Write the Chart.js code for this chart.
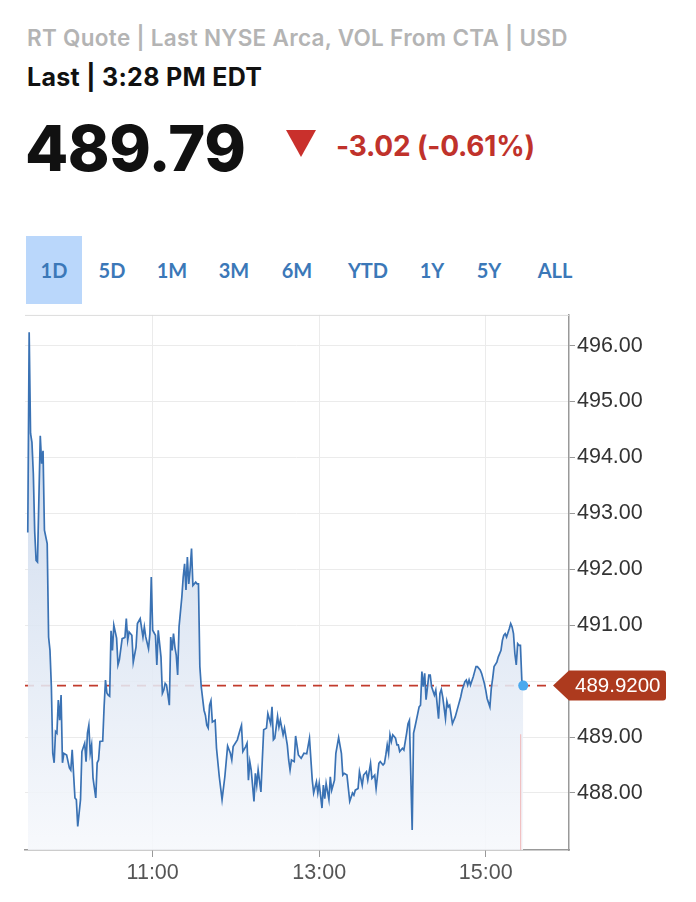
<!DOCTYPE html>
<html>
<head>
<meta charset="utf-8">
<script src="https://cdn.jsdelivr.net/npm/chart.js@4.4.1/dist/chart.umd.min.js"></script>
<style>
  html, body { margin: 0; padding: 0; background: #fff; }
  body { width: 696px; height: 902px; position: relative; overflow: hidden; font-family: Inter, Lato, sans-serif; }
  .hd { position: absolute; white-space: nowrap; line-height: 1; }
  .src { left: 27px; top: 27px; font-size: 22.5px; font-weight: 600; color: #b4b4b4; letter-spacing: 0.3px; }
  .last { left: 27px; top: 65px; font-size: 25px; font-weight: 700; color: #111; letter-spacing: 0.3px; }
  .price { left: 25px; top: 117px; font-size: 63px; font-weight: 800; color: #111; letter-spacing: -0.5px; }
  .tri { position: absolute; left: 286px; top: 130px; width: 0; height: 0; border-left: 15px solid transparent; border-right: 15px solid transparent; border-top: 27px solid #c9302c; }
  .chg { left: 336px; top: 132px; font-size: 28px; font-weight: 700; color: #c0322b; letter-spacing: -0.2px; }
  .tabs { position: absolute; left: 0; top: 236px; width: 696px; height: 68px; }
  .tab { position: absolute; top: 0; height: 68px; line-height: 68px; font-family: Lato, sans-serif; font-size: 20px; font-weight: 700; color: #3b78b8; transform: translateX(-50%); text-align: center; }
  .tab.on { background: #bad7fb; width: 56px; transform: none; }
  #wrap { position: absolute; left: 0; top: 300px; width: 696px; height: 602px; }
</style>
</head>
<body>
<div class="hd src">RT Quote | Last NYSE Arca, VOL From CTA | USD</div>
<div class="hd last">Last | 3:28 PM EDT</div>
<div class="hd price">489.79</div>
<div class="tri"></div>
<div class="hd chg">-3.02 (-0.61%)</div>
<div class="tabs" id="tabs"></div>
<div id="wrap"><canvas id="chart" width="696" height="602"></canvas></div>
<script>
// tabs above the chart
const tabLabels = ["1D", "5D", "1M", "3M", "6M", "YTD", "1Y", "5Y", "ALL"];
const tabCenters = [54, 112, 172, 234, 297, 368, 432, 489, 555];

// minutes after the 9:30 open, and the price at that minute
const minutes = [
  0, 1, 2, 3, 4, 5, 6, 7, 9, 10, 11, 12, 14, 15, 16, 17, 18, 19, 20, 21, 22, 23, 24, 25, 26, 28, 30, 31, 32, 34,
  35, 36, 38, 39, 41, 42, 43, 44, 45, 46, 47, 49, 50, 51, 52, 54, 55, 56, 57, 58, 59,
  60, 61, 62, 64, 65, 66, 68, 70, 71, 72, 73, 75, 76, 78, 79, 81, 83, 84, 85, 87, 88, 89, 90, 92,
  93, 94, 96, 97, 98, 99, 100, 102, 103, 104, 105, 106, 107, 108, 109, 111, 112, 113, 114, 115, 116, 117, 118, 119,
  121, 122, 123, 124, 125, 127, 128, 129, 130, 131, 132, 133, 135, 136, 138, 140, 142, 144, 146, 147, 148, 151,
  153, 154, 155, 157, 158, 159, 160, 161, 163, 164, 165, 166, 168, 169, 170, 172, 173, 175, 176, 177, 178, 180,
  181, 182, 184, 185, 187, 188, 189, 190, 192, 193, 195, 197, 199,
  201, 203, 205, 206, 208, 209, 210, 212, 213, 214, 215, 217, 218, 219, 221, 222, 224, 226, 227, 228, 230, 232,
  234, 235, 236, 238, 239, 241, 242, 244, 245, 247, 248, 250, 251, 253, 254, 256, 257, 258, 259, 260, 261, 262,
  263, 265, 266, 267, 268, 270, 271, 273, 274, 275, 277, 278, 279, 281, 282, 283, 284, 285, 286, 287, 289, 290,
  291, 293, 294, 296, 297, 298, 299, 301, 302, 303, 304, 306, 307, 308, 310, 312, 313, 315, 316, 317, 318, 319,
  321, 322, 323, 324, 326, 327, 329, 330, 331, 333, 334, 335, 336, 338, 339, 341, 342, 343, 344, 345, 347, 348,
  349, 350, 351, 352, 353, 354, 355, 356, 357
];
const prices = [
  492.66, 496.24, 494.43, 494.27, 493.71, 492.67, 492.16, 492.13, 494.39, 493.89, 494.12, 492.70, 492.46, 490.79, 490.55,
  489.90, 488.71, 488.54, 489.10, 489.07, 489.66, 489.30, 489.75, 488.54, 488.71, 488.68, 488.45, 488.41, 488.77, 487.91,
  487.88, 487.40, 487.88, 488.74, 488.89, 488.56, 489.07, 489.21, 488.71, 488.86, 488.27, 487.91, 488.54, 488.59, 488.92,
  488.93, 489.54, 490.02, 489.79, 489.75, 489.73,
  490.90, 490.55, 491.00, 490.77, 490.29, 490.38, 490.76, 490.78, 491.12, 490.73, 490.88, 490.82, 490.34, 490.61, 491.03,
  491.12, 490.79, 490.97, 490.79, 490.58, 490.85, 491.86, 490.91, 490.82,
  490.29, 490.91, 490.43, 489.78, 489.84, 489.96, 489.93, 489.57, 490.79, 490.55, 490.85, 490.61, 490.46, 490.11, 490.97,
  491.50, 491.86, 492.10, 491.63, 492.22, 491.74, 492.00, 492.37, 491.71,
  491.77, 491.74, 491.74, 490.26, 489.90, 489.48, 489.39, 489.21, 489.16, 489.57, 489.65, 489.27, 489.30, 488.80, 488.29,
  487.88, 488.29, 488.84, 488.71, 488.59, 488.83, 488.95,
  489.13, 489.21, 488.74, 488.83, 488.89, 488.23, 488.56, 488.41, 487.85, 488.35, 488.14, 488.41, 488.02, 488.59, 489.13,
  489.16, 489.42, 489.24, 489.54, 488.95, 488.98, 489.37,
  489.18, 489.30, 489.04, 489.16, 488.86, 488.59, 488.41, 488.59, 488.56, 489.02, 488.68, 488.62, 488.71,
  488.70, 488.98, 488.23, 488.00, 488.20, 488.00, 488.17, 487.73, 488.14, 487.90, 488.17, 487.88, 488.29, 488.05, 488.23,
  488.71, 488.99, 488.71, 488.32, 488.35, 488.32, 487.85,
  488.00, 487.96, 488.05, 488.08, 488.38, 488.14, 488.32, 488.38, 488.23, 488.53, 488.26, 488.32, 488.08, 488.53, 488.56,
  488.50, 488.53, 488.68, 488.86, 488.71, 489.04, 488.92,
  489.04, 488.98, 488.86, 488.86, 488.74, 488.80, 488.77, 489.07, 489.24, 489.30, 487.34, 489.07, 489.18, 489.42, 489.54,
  489.57, 490.17, 489.90, 490.14, 489.67, 490.11, 490.11,
  489.90, 489.75, 489.84, 489.33, 489.78, 489.85, 489.72, 489.33, 489.64, 489.54, 489.57, 489.24, 489.30, 489.36, 489.54,
  489.72, 489.84, 489.99, 490.02, 489.93, 490.02, 489.93,
  490.08, 490.17, 490.26, 490.26, 490.20, 490.14, 489.96, 489.84, 489.69, 489.54, 489.87, 490.05, 490.26, 490.34, 490.43,
  490.55, 490.73, 490.82, 490.85, 490.79, 490.94, 491.03,
  490.97, 490.85, 490.49, 490.29, 490.67, 490.64, 490.64, 490.02, 489.92
];

const yTicks = [488, 489, 490, 491, 492, 493, 494, 495, 496];
const xTickMinutes = [90, 210, 330];
const xTickLabels = ["11:00", "13:00", "15:00"];
const lastPrice = 489.92;
const lastLabel = "489.9200";

const tabs = document.getElementById("tabs");
tabLabels.forEach((t, i) => {
  const el = document.createElement("div");
  el.className = i === 0 ? "tab on" : "tab";
  el.textContent = t;
  if (i === 0) el.style.left = "26px";
  else el.style.left = tabCenters[i] + "px";
  tabs.appendChild(el);
});

// red dashed "last" line, top border, cursor line, dot and price tag
const quoteMarks = {
  id: "quoteMarks",
  beforeDatasetsDraw(chart) {
    const { ctx, chartArea, scales } = chart;
    const y = scales.y.getPixelForValue(lastPrice);
    ctx.save();
    ctx.strokeStyle = "#dcdcdc";
    ctx.lineWidth = 1;
    ctx.beginPath();
    ctx.moveTo(chartArea.left, chartArea.top + 0.5);
    ctx.lineTo(chartArea.right, chartArea.top + 0.5);
    ctx.stroke();
    ctx.strokeStyle = "#c23b2c";
    ctx.lineWidth = 1.6;
    ctx.setLineDash([9, 7]);
    ctx.beginPath();
    ctx.moveTo(chartArea.left, y);
    ctx.lineTo(chartArea.right - 16, y);
    ctx.stroke();
    ctx.restore();
  },
  afterDatasetsDraw(chart) {
    const { ctx, chartArea, scales } = chart;
    const lx = scales.x.getPixelForValue(minutes[minutes.length - 1]);
    const ly = scales.y.getPixelForValue(prices[prices.length - 1]);
    ctx.save();
    ctx.strokeStyle = "#f0b4b4";
    ctx.lineWidth = 1;
    ctx.beginPath();
    ctx.moveTo(lx - 2.5, scales.y.getPixelForValue(489.05));
    ctx.lineTo(lx - 2.5, chartArea.bottom);
    ctx.stroke();
    ctx.fillStyle = "#4aa9ee";
    ctx.beginPath();
    ctx.arc(lx, ly, 5, 0, Math.PI * 2);
    ctx.fill();
    ctx.restore();
  },
  afterDraw(chart) {
    const { ctx, chartArea, scales } = chart;
    const y = scales.y.getPixelForValue(lastPrice);
    const tip = chartArea.right - 16;
    const bx = chartArea.right;
    const right = bx + 97;
    const h = 15, r = 3;
    ctx.save();
    ctx.fillStyle = "#ad3a1e";
    ctx.beginPath();
    ctx.moveTo(tip, y);
    ctx.lineTo(bx, y - h);
    ctx.lineTo(right - r, y - h);
    ctx.quadraticCurveTo(right, y - h, right, y - h + r);
    ctx.lineTo(right, y + h - r);
    ctx.quadraticCurveTo(right, y + h, right - r, y + h);
    ctx.lineTo(bx, y + h);
    ctx.closePath();
    ctx.fill();
    ctx.fillStyle = "#fff";
    ctx.font = '20.5px "Liberation Sans", Arial, sans-serif';
    ctx.textBaseline = "middle";
    ctx.textAlign = "left";
    ctx.fillText(lastLabel, bx + 6, y + 1);
    ctx.restore();
  }
};

const ctx = document.getElementById("chart");
new Chart(ctx, {
  type: "line",
  data: {
    datasets: [{
      data: minutes.map((m, i) => ({ x: m, y: prices[i] })),
      borderColor: "#3a72b4",
      borderWidth: 1.7,
      pointRadius: 0,
      tension: 0,
      fill: "start",
      backgroundColor: (c) => {
        const area = c.chart.chartArea;
        if (!area) return "rgba(210,222,238,0.85)";
        const g = c.chart.ctx.createLinearGradient(0, area.top, 0, area.bottom);
        g.addColorStop(0, "rgba(188,206,231,0.88)");
        g.addColorStop(1, "rgba(246,248,252,0.88)");
        return g;
      }
    }]
  },
  options: {
    responsive: false,
    animation: false,
    layout: { padding: { left: 25, top: 14, right: 0, bottom: 0 } },
    plugins: { legend: { display: false }, tooltip: { enabled: false } },
    scales: {
      x: {
        type: "linear",
        min: -2,
        max: 390,
        afterBuildTicks: (s) => { s.ticks = xTickMinutes.map((v) => ({ value: v })); },
        afterFit: (s) => { s.height = 52; },
        ticks: {
          callback: (v, i) => xTickLabels[i],
          color: "#555",
          font: { family: '"Liberation Sans", Arial, sans-serif', size: 21.5 },
          padding: 3,
          maxRotation: 0,
          autoSkip: false
        },
        grid: { color: "#ebebeb", tickColor: "#999", tickLength: 7 },
        border: { color: "#999", width: 1.5 }
      },
      y: {
        position: "right",
        min: 486.98,
        max: 496.55,
        afterBuildTicks: (s) => { s.ticks = yTicks.map((v) => ({ value: v })); },
        afterFit: (s) => { s.width = 127; },
        ticks: {
          callback: (v) => v.toFixed(2),
          color: "#333",
          font: { family: '"Liberation Sans", Arial, sans-serif', size: 21.5 },
          padding: 2
        },
        grid: { color: "#ebebeb", tickColor: "#999", tickLength: 6 },
        border: { color: "#999", width: 1.5 }
      }
    }
  },
  plugins: [quoteMarks]
});
</script>
</body>
</html>
